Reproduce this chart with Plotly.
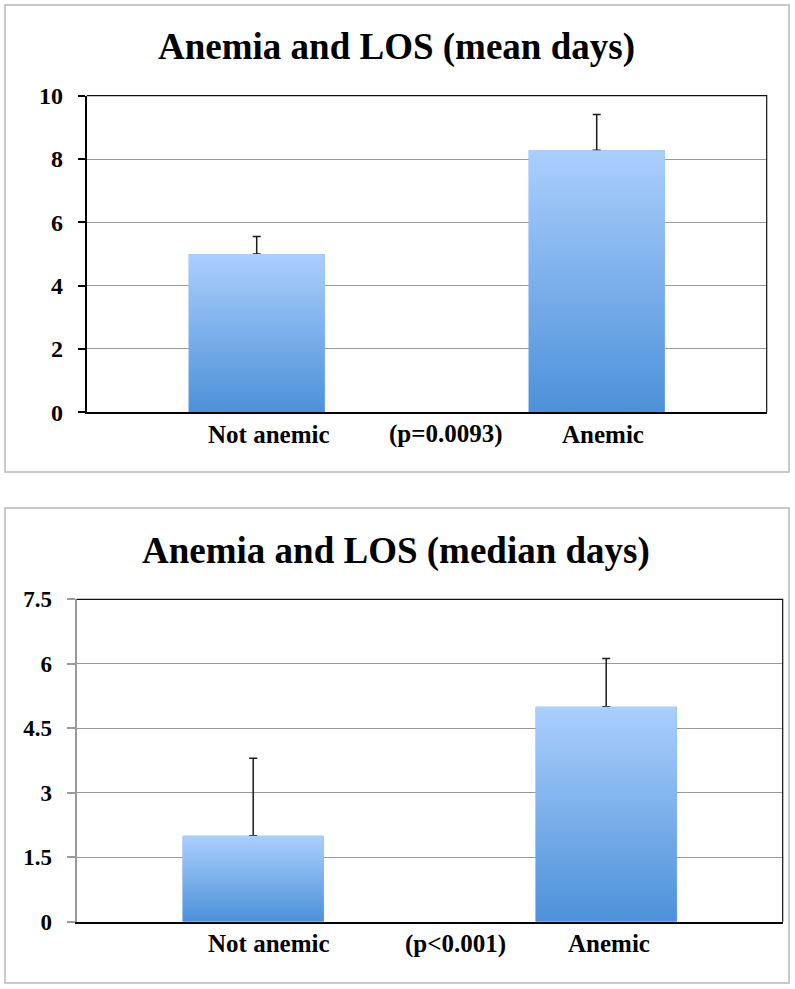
import plotly.graph_objects as go

# ---------------- data ----------------
categories = ["Not anemic", "Anemic"]
mean_days = [5.0, 8.28]
mean_err = [0.55, 1.13]
mean_p = "(p=0.0093)"
mean_yticks = [0, 2, 4, 6, 8, 10]

median_days = [2.0, 5.0]
median_err = [1.8, 1.12]
median_p = "(p<0.001)"
median_yticks = [0, 1.5, 3, 4.5, 6, 7.5]
median_yticklabels = ["0", "1.5", "3", "4.5", "6", "7.5"]

titles = ["Anemia and LOS (mean days)", "Anemia and LOS (median days)"]

# ---------------- style ----------------
W, H = 795, 989
FONT = "Liberation Serif"
BAR_TOP = "rgb(171,207,253)"
BAR_BOT = "rgb(76,145,217)"
BAR_W = 0.4


def px_x(p):
    return p / W


def px_y(p):
    return 1 - p / H


fig = go.Figure()

panels = [
    dict(vals=mean_days, err=mean_err, p=mean_p, xa="x", ya="y",
         xdom=[px_x(86.7), px_x(766.7)], ydom=[px_y(412.3), px_y(95.7)],
         yr=[0, 10], tv=mean_yticks, tt=[str(v) for v in mean_yticks],
         box=[5, 5, 789, 472], title_y=47, lab_shift=[12, 19, 6], ticklen=7,
         yline="black", yfont=24),
    dict(vals=median_days, err=median_err, p=median_p, xa="x2", ya="y2",
         xdom=[px_x(76.7), px_x(782.7)], ydom=[px_y(921.7), px_y(599.3)],
         yr=[0, 7.5], tv=median_yticks, tt=median_yticklabels,
         box=[5, 508, 789, 983], title_y=551, lab_shift=[16, 26, 3], ticklen=8,
         yline="#9a9a9a", yfont=23),
]

shapes = []
annotations = []
for i, pn in enumerate(panels):
    xs = list(range(len(categories)))
    fig.add_trace(go.Bar(
        x=xs, y=pn["vals"], width=BAR_W, xaxis=pn["xa"], yaxis=pn["ya"],
        marker=dict(color="rgb(120,172,234)", line=dict(width=0)),
        error_y=dict(type="data", symmetric=False, array=pn["err"],
                     arrayminus=[0] * len(xs), color="#1a1a1a",
                     thickness=1.5, width=4),
        showlegend=False, hoverinfo="x+y",
    ))
    # gradient overlay for each bar, built from the same data
    for xi, v in zip(xs, pn["vals"]):
        fig.add_trace(go.Scatter(
            x=[xi - BAR_W / 2, xi + BAR_W / 2, xi + BAR_W / 2, xi - BAR_W / 2, xi - BAR_W / 2],
            y=[0, 0, v, v, 0], mode="lines", line=dict(width=0),
            fill="toself",
            fillgradient=dict(type="vertical",
                              colorscale=[[0, BAR_BOT], [1, BAR_TOP]]),
            xaxis=pn["xa"], yaxis=pn["ya"], showlegend=False, hoverinfo="skip",
        ))

    sfx = "" if i == 0 else "2"
    fig.layout["xaxis" + sfx] = dict(
        domain=pn["xdom"], range=[-0.5, 1.5], showticklabels=False,
        showgrid=False, zeroline=False, showline=True, linecolor="black",
        linewidth=2, ticks="", anchor="y" + sfx, fixedrange=True,
        automargin=False, layer="above traces")
    fig.layout["yaxis" + sfx] = dict(
        domain=pn["ydom"], range=pn["yr"], tickvals=pn["tv"], ticktext=pn["tt"],
        showgrid=True, gridcolor="#9a9a9a", gridwidth=1, zeroline=False,
        showline=True, linecolor=pn["yline"], linewidth=2, ticks="outside",
        ticklen=pn["ticklen"], tickcolor=pn["yline"], tickwidth=1.5,
        ticklabelstandoff=10, automargin=False,
        tickfont=dict(family=FONT, size=pn["yfont"], color="black", weight="bold"),
        anchor="x" + sfx, fixedrange=True)

    # plot-area frame (top/right thin lines)
    shapes.append(dict(type="path", xref="x" + sfx + " domain", yref="y" + sfx + " domain",
                       path="M 0 1 L 1 1 L 1 0", line=dict(color="#111111", width=1.2),
                       layer="above"))
    # outer chart box
    bx = pn["box"]
    shapes.append(dict(type="rect", xref="paper", yref="paper",
                       x0=px_x(bx[0]), x1=px_x(bx[2]), y0=px_y(bx[3]), y1=px_y(bx[1]),
                       line=dict(color="#b8b8b8", width=1.5), layer="below"))
    # title
    annotations.append(dict(text=titles[i], xref="paper", yref="paper",
                            x=px_x(396), y=px_y(pn["title_y"]), xanchor="center",
                            yanchor="middle", showarrow=False,
                            font=dict(family=FONT, size=37, color="black", weight="bold")))
    # x labels: categories and the p-value between them
    labels = [categories[0], pn["p"], categories[1]]
    positions = [0, 0.5, 1]
    for lab, pos, sh in zip(labels, positions, pn["lab_shift"]):
        annotations.append(dict(text=lab, xref="x" + sfx, yref="y" + sfx,
                                x=pos, y=0, xanchor="center", yanchor="middle",
                                xshift=sh, yshift=-22, showarrow=False,
                                font=dict(family=FONT, size=25, color="black", weight="bold")))

fig.update_layout(
    width=W, height=H, margin=dict(l=0, r=0, t=0, b=0, autoexpand=False),
    paper_bgcolor="white", plot_bgcolor="white",
    shapes=shapes, annotations=annotations, bargap=0.6, showlegend=False,
)

fig.write_html("out.html", config={"displayModeBar": False},
               post_script="document.body.style.margin='0';")
